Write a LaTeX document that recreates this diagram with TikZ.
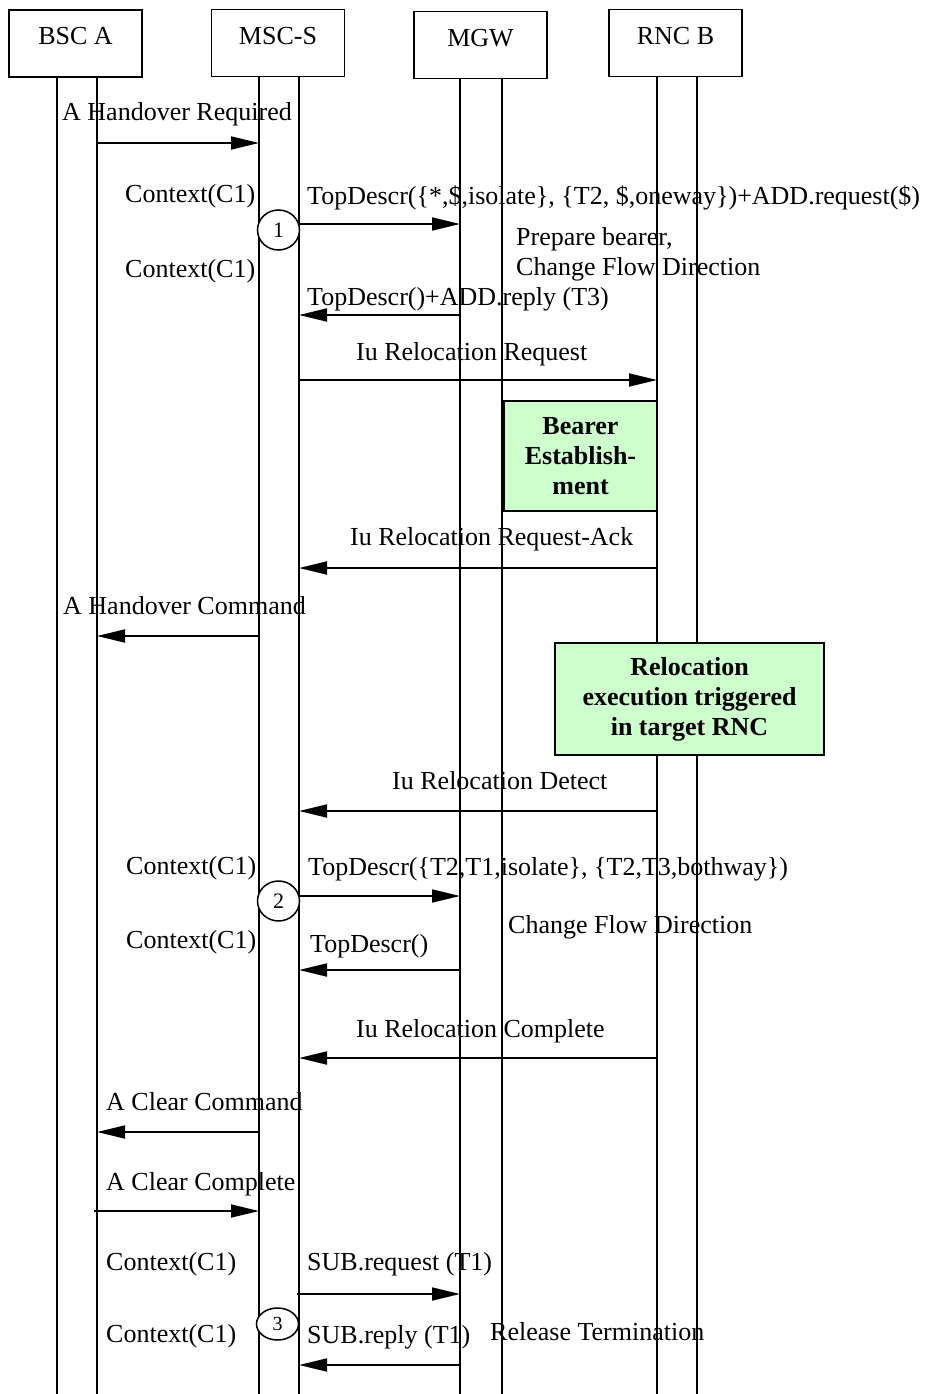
\documentclass[tikz,border=0pt]{standalone}
\usepackage{fontspec}
\setmainfont{Liberation Serif}
\usetikzlibrary{arrows.meta,shapes.geometric}
\definecolor{notegreen}{HTML}{CCFFCC}
\begin{document}
\begin{tikzpicture}[x=1pt,y=-1pt,
  every node/.style={font=\fontsize{26}{30}\selectfont},
  actor/.style={draw, line width=1.5pt, minimum width=133pt, minimum height=67pt, inner sep=0pt, text height=12pt, text depth=9pt},
  life/.style={line width=1.2pt},
  msg/.style={line width=1.8pt, -{Triangle[length=28pt,width=13pt]}},
  lbl/.style={inner sep=0pt, anchor=base west},
  note/.style={draw, line width=1.5pt, fill=notegreen, align=center, font=\fontsize{26}{30}\selectfont\bfseries, inner sep=0pt},
  numcirc/.style={ellipse, draw, fill=white, line width=1.5pt, minimum width=42pt, inner sep=0pt, font=\fontsize{22}{25}\selectfont}
]
\useasboundingbox (0,0) rectangle (924,1394);

% lifelines
\foreach \n/\x/\y in {bscL/57/77, bscR/97/77, mscL/259/76.5, mscR/299/76.5, mgwL/460/78.5, mgwR/502/78.5, rncL/657/76.5, rncR/697/76.5} {
  \coordinate (\n top) at (\x,\y);
  \coordinate (\n bot) at (\x,1394);
  \draw[life] (\n top) -- (\n bot);
}

% actors
\node[actor] (bsc) at (75.5,43.5) {BSC A};
\node[actor] (msc) at (278,43) {MSC-S};
\node[actor] (mgw) at (480.5,45) {MGW};
\node[actor] (rnc) at (675.5,43) {RNC B};

% message end points
\coordinate (m1a) at (97,143);   \coordinate (m1b) at (259,143);
\coordinate (m2a) at (299,224);  \coordinate (m2b) at (460,224);
\coordinate (m3a) at (460,315);  \coordinate (m3b) at (299,315);
\coordinate (m4a) at (299,380);  \coordinate (m4b) at (657,380);
\coordinate (m5a) at (657,568);  \coordinate (m5b) at (299,568);
\coordinate (m6a) at (259,636);  \coordinate (m6b) at (97,636);
\coordinate (m7a) at (657,811);  \coordinate (m7b) at (299,811);
\coordinate (m8a) at (299,896);  \coordinate (m8b) at (460,896);
\coordinate (m9a) at (460,970);  \coordinate (m9b) at (299,970);
\coordinate (m10a) at (657,1058); \coordinate (m10b) at (299,1058);
\coordinate (m11a) at (259,1132); \coordinate (m11b) at (97,1132);
\coordinate (m12a) at (94,1211);  \coordinate (m12b) at (259,1211);
\coordinate (m13a) at (297,1294); \coordinate (m13b) at (460,1294);
\coordinate (m14a) at (460,1365); \coordinate (m14b) at (299,1365);

\foreach \i in {1,...,14} { \draw[msg] (m\i a) -- (m\i b); }

% notes
\node[note, minimum width=153pt, minimum height=110pt] (bearer) at (580.5,456) {Bearer\\Establish-\\ment};
\node[note, minimum width=269pt, minimum height=112pt] (reloc) at (689.5,699) {Relocation\\execution triggered\\in target RNC};

% numbered circles
\node[numcirc, minimum height=40pt] (c1) at (278.5,230) {1};
\node[numcirc, minimum height=40pt] (c2) at (278.5,901) {2};
\node[numcirc, minimum height=32pt, font=\fontsize{20}{23}\selectfont] (c3) at (277.5,1324) {3};

% labels
\node[lbl] (l1) at (62,121) {A Handover Required};
\node[lbl] (l2) at (125,202) {Context(C1)};
\node[lbl] (l3) at (307,204) {TopDescr(\{*,\$,isolate\}, \{T2, \$,oneway\})+ADD.request(\$)};
\node[lbl] (l4) at (516,245) {Prepare bearer,};
\node[lbl] (l5) at (516,275) {Change Flow Direction};
\node[lbl] (l6) at (125,277) {Context(C1)};
\node[lbl] (l7) at (307,305) {TopDescr()+ADD.reply (T3)};
\node[lbl] (l8) at (356,360) {Iu Relocation Request};
\node[lbl] (l9) at (350,545) {Iu Relocation Request-Ack};
\node[lbl] (l10) at (63,614) {A Handover Command};
\node[lbl] (l11) at (392,789) {Iu Relocation Detect};
\node[lbl] (l12) at (126,874) {Context(C1)};
\node[lbl] (l13) at (308,875) {TopDescr(\{T2,T1,isolate\}, \{T2,T3,bothway\})};
\node[lbl] (l14) at (508,933) {Change Flow Direction};
\node[lbl] (l15) at (126,948) {Context(C1)};
\node[lbl] (l16) at (310,952) {TopDescr()};
\node[lbl] (l17) at (356,1037) {Iu Relocation Complete};
\node[lbl] (l18) at (106,1110) {A Clear Command};
\node[lbl] (l19) at (106,1190) {A Clear Complete};
\node[lbl] (l20) at (106,1270) {Context(C1)};
\node[lbl] (l21) at (307,1270) {SUB.request (T1)};
\node[lbl] (l22) at (106,1342) {Context(C1)};
\node[lbl] (l23) at (307,1343) {SUB.reply (T1)};
\node[lbl] (l24) at (490,1340) {Release Termination};
\end{tikzpicture}
\end{document}
